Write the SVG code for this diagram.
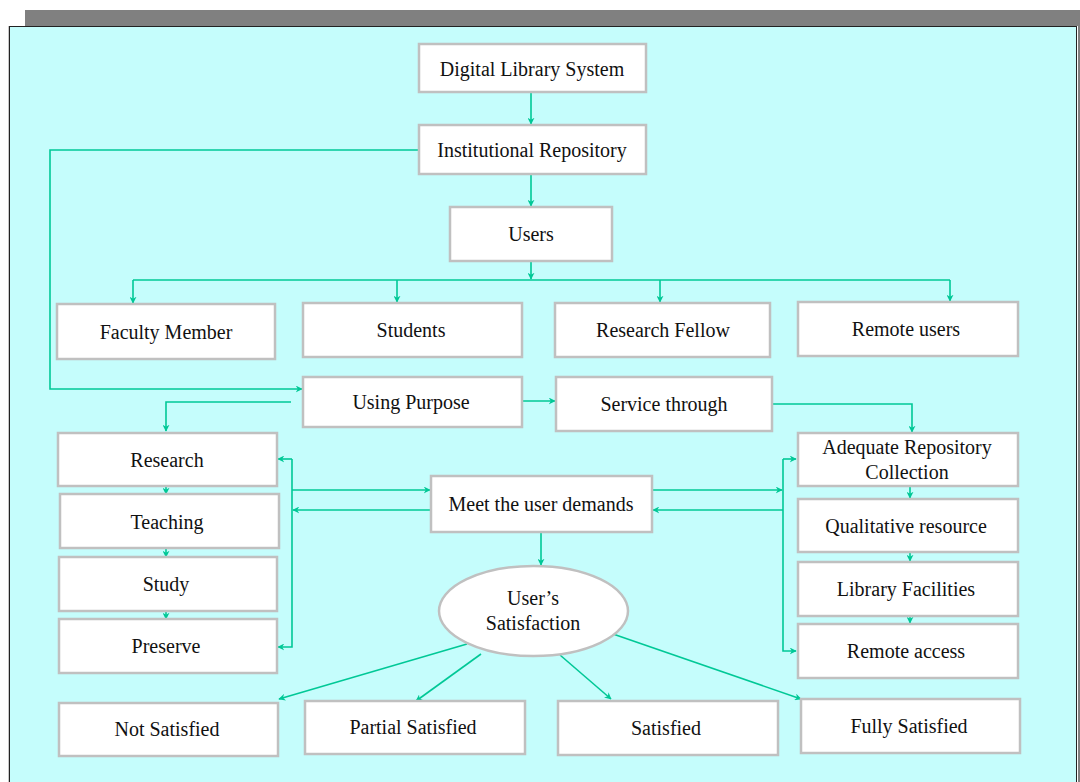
<svg xmlns="http://www.w3.org/2000/svg" width="1080" height="782" viewBox="0 0 1080 782">
<defs>
<style>
.box{fill:#fff;stroke:#c0c0c0;stroke-width:2.5}
.t{font-family:"Liberation Serif","Times New Roman",serif;font-size:20px;fill:#111;text-anchor:middle}
.c{fill:none;stroke:#00c896;stroke-width:1.6}
</style>
<marker id="a" viewBox="0 0 10 10" refX="9" refY="5" markerWidth="7" markerHeight="7" markerUnits="userSpaceOnUse" orient="auto">
<path d="M0,0 L10,5 L0,10 L3,5 Z" fill="#00c896"/>
</marker>
</defs>
<rect x="0" y="0" width="1080" height="782" fill="#fff"/>
<rect x="25" y="10" width="1055" height="16" fill="#808080"/>
<rect x="8" y="26" width="2" height="756" fill="#c8c8c8"/>
<rect x="9.5" y="26.5" width="1067" height="770" fill="#c5fdfc" stroke="#222" stroke-width="1"/>
<rect x="1078" y="26" width="2" height="756" fill="#808080"/>

<g id="connectors">
<path class="c" d="M531,92 V124" marker-end="url(#a)"/>
<path class="c" d="M531,174 V206" marker-end="url(#a)"/>
<path class="c" d="M531,261 V279" marker-end="url(#a)"/>
<path class="c" d="M133,280 H950"/>
<path class="c" d="M133,280 V303" marker-end="url(#a)"/>
<path class="c" d="M397,280 V302" marker-end="url(#a)"/>
<path class="c" d="M660,280 V302" marker-end="url(#a)"/>
<path class="c" d="M950,280 V301" marker-end="url(#a)"/>
<path class="c" d="M419,150 H50 V389 H302" marker-end="url(#a)"/>
<path class="c" d="M522,401 H555" marker-end="url(#a)"/>
<path class="c" d="M291,402 H166 V431" marker-end="url(#a)"/>
<path class="c" d="M772,404 H912 V432" marker-end="url(#a)"/>
<path class="c" d="M166,486 V494" marker-end="url(#a)"/>
<path class="c" d="M166,548 V557" marker-end="url(#a)"/>
<path class="c" d="M166,611 V619" marker-end="url(#a)"/>
<path class="c" d="M292,459 H278" marker-end="url(#a)"/>
<path class="c" d="M292,459 V647 H278" marker-end="url(#a)"/>
<path class="c" d="M292,490 H430" marker-end="url(#a)"/>
<path class="c" d="M431,510 H293" marker-end="url(#a)"/>
<path class="c" d="M652,490 H782" marker-end="url(#a)"/>
<path class="c" d="M783,510 H653" marker-end="url(#a)"/>
<path class="c" d="M783,459 H796" marker-end="url(#a)"/>
<path class="c" d="M783,459 V651 H796" marker-end="url(#a)"/>
<path class="c" d="M910,486 V498" marker-end="url(#a)"/>
<path class="c" d="M910,552 V561" marker-end="url(#a)"/>
<path class="c" d="M910,616 V623" marker-end="url(#a)"/>
<path class="c" d="M541,532 V565" marker-end="url(#a)"/>
<path class="c" d="M467,644 L279,699" marker-end="url(#a)"/>
<path class="c" d="M481,654 L416,701" marker-end="url(#a)"/>
<path class="c" d="M560,655 L611,699" marker-end="url(#a)"/>
<path class="c" d="M613,634 L801,699" marker-end="url(#a)"/>
</g>

<g id="n-dls"><rect class="box" x="419" y="44" width="227" height="48"/><text class="t" x="532" y="76">Digital Library System</text></g>
<g id="n-ir"><rect class="box" x="419" y="125" width="227" height="49"/><text class="t" x="532" y="157">Institutional Repository</text></g>
<g id="n-users"><rect class="box" x="450" y="207" width="162" height="54"/><text class="t" x="531" y="241">Users</text></g>
<g id="n-faculty"><rect class="box" x="57" y="304" width="218" height="55"/><text class="t" x="166" y="339">Faculty Member</text></g>
<g id="n-students"><rect class="box" x="303" y="303" width="219" height="54"/><text class="t" x="411" y="337">Students</text></g>
<g id="n-fellow"><rect class="box" x="555" y="303" width="215" height="54"/><text class="t" x="663" y="337">Research Fellow</text></g>
<g id="n-remote-users"><rect class="box" x="798" y="302" width="220" height="54"/><text class="t" x="906" y="336">Remote users</text></g>
<g id="n-using"><rect class="box" x="303" y="377" width="219" height="50"/><text class="t" x="411" y="409">Using Purpose</text></g>
<g id="n-service"><rect class="box" x="556" y="377" width="216" height="54"/><text class="t" x="664" y="411">Service through</text></g>
<g id="n-research"><rect class="box" x="58" y="433" width="219" height="53"/><text class="t" x="167" y="467">Research</text></g>
<g id="n-teaching"><rect class="box" x="60" y="494" width="219" height="54"/><text class="t" x="167" y="529">Teaching</text></g>
<g id="n-study"><rect class="box" x="59" y="557" width="218" height="54"/><text class="t" x="166" y="591">Study</text></g>
<g id="n-preserve"><rect class="box" x="59" y="619" width="218" height="54"/><text class="t" x="166" y="653">Preserve</text></g>
<g id="n-meet"><rect class="box" x="431" y="476" width="221" height="56"/><text class="t" x="541" y="511">Meet the user demands</text></g>
<g id="n-adequate"><rect class="box" x="798" y="433" width="220" height="53"/><text class="t" x="907" y="454">Adequate Repository</text><text class="t" x="907" y="479">Collection</text></g>
<g id="n-qualitative"><rect class="box" x="798" y="499" width="220" height="53"/><text class="t" x="906" y="533">Qualitative resource</text></g>
<g id="n-facilities"><rect class="box" x="798" y="562" width="220" height="54"/><text class="t" x="906" y="596">Library Facilities</text></g>
<g id="n-remote-access"><rect class="box" x="798" y="624" width="220" height="54"/><text class="t" x="906" y="658">Remote access</text></g>
<g id="n-satisfaction"><ellipse cx="533.5" cy="611" rx="94.5" ry="45" fill="#fff" stroke="#c0c0c0" stroke-width="2.5"/><text class="t" x="533" y="605">User’s</text><text class="t" x="533" y="630">Satisfaction</text></g>
<g id="n-not"><rect class="box" x="59" y="703" width="219" height="53"/><text class="t" x="167" y="736">Not Satisfied</text></g>
<g id="n-partial"><rect class="box" x="305" y="701" width="220" height="53"/><text class="t" x="413" y="734">Partial Satisfied</text></g>
<g id="n-satisfied"><rect class="box" x="558" y="701" width="220" height="54"/><text class="t" x="666" y="735">Satisfied</text></g>
<g id="n-fully"><rect class="box" x="801" y="699" width="219" height="54"/><text class="t" x="909" y="733">Fully Satisfied</text></g>
</svg>
